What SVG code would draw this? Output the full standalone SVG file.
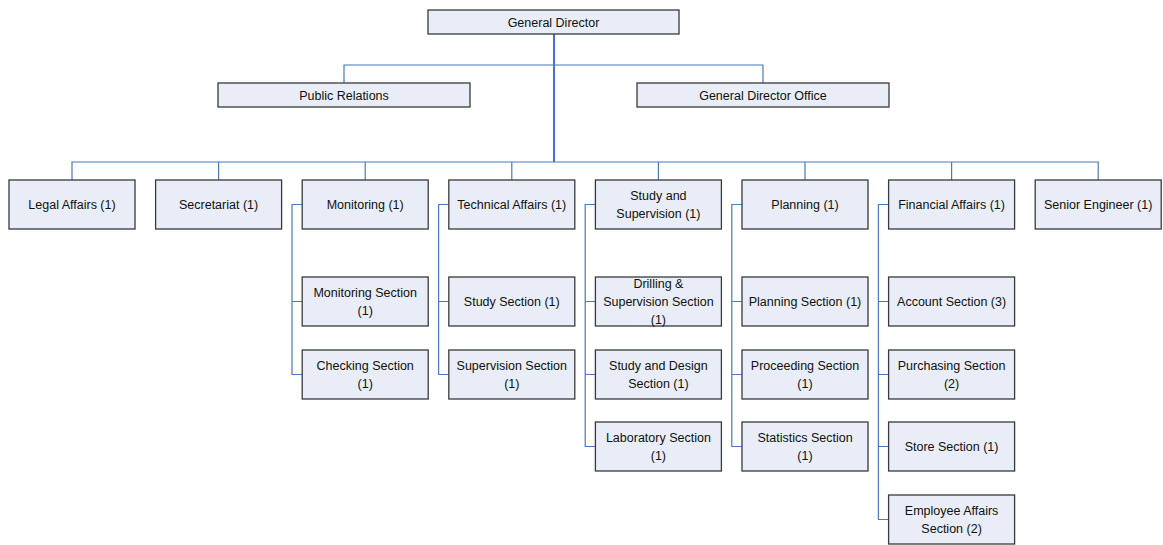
<svg xmlns="http://www.w3.org/2000/svg" width="1163" height="545" viewBox="0 0 1163 545">
  <style>
    .box { fill: #E8EDF7; stroke: #3A3A3A; stroke-width: 1.3; }
    .lbl { font-family: "Liberation Sans", Arial, sans-serif; font-size: 12.5px; fill: #111; text-anchor: middle; }
    .ln { fill: none; stroke: #4A78C2; stroke-width: 1.2; }
    .ln-main { fill: none; stroke: #4472C4; stroke-width: 2; }
  </style>
  <rect width="1163" height="545" fill="#FFFFFF"/>

  <!-- connectors -->
  <g id="connectors">
    <path class="ln-main" d="M554 34 V162"/>
    <path class="ln" d="M344 83 V65 H763 V83"/>
    <path class="ln" d="M72 180 V162 H1098.2 V180"/>
    <path class="ln" d="M218.6 162 V180 M365.2 162 V180 M511.8 162 V180 M658.4 162 V180 M805 162 V180 M951.6 162 V180"/>
    <!-- Monitoring -->
    <path class="ln" d="M302 204.5 H292 V374.5 H302 M292 301.5 H302"/>
    <!-- Technical Affairs -->
    <path class="ln" d="M448.6 204.5 H438.6 V374.5 H448.6 M438.6 301.5 H448.6"/>
    <!-- Study and Supervision -->
    <path class="ln" d="M595.2 204.5 H585.2 V446.5 H595.2 M585.2 301.5 H595.2 M585.2 374.5 H595.2"/>
    <!-- Planning -->
    <path class="ln" d="M741.8 204.5 H731.8 V446.5 H741.8 M731.8 301.5 H741.8 M731.8 374.5 H741.8"/>
    <!-- Financial Affairs -->
    <path class="ln" d="M888.4 204.5 H878.4 V519.5 H888.4 M878.4 301.5 H888.4 M878.4 374.5 H888.4 M878.4 446.5 H888.4"/>
  </g>

  <!-- top level -->
  <g id="general-director">
    <rect class="box" x="428" y="10" width="251" height="24"/>
    <text class="lbl" x="553.5" y="26.5">General Director</text>
  </g>
  <g id="public-relations">
    <rect class="box" x="218" y="83" width="252" height="24"/>
    <text class="lbl" x="344" y="99.5">Public Relations</text>
  </g>
  <g id="general-director-office">
    <rect class="box" x="637" y="83" width="252" height="24"/>
    <text class="lbl" x="763" y="99.5">General Director Office</text>
  </g>

  <!-- departments -->
  <g id="legal-affairs">
    <rect class="box" x="9" y="180" width="126" height="49"/>
    <text class="lbl" x="72" y="209">Legal Affairs (1)</text>
  </g>
  <g id="secretariat">
    <rect class="box" x="155.6" y="180" width="126" height="49"/>
    <text class="lbl" x="218.6" y="209">Secretariat (1)</text>
  </g>
  <g id="monitoring">
    <rect class="box" x="302.2" y="180" width="126" height="49"/>
    <text class="lbl" x="365.2" y="209">Monitoring (1)</text>
  </g>
  <g id="technical-affairs">
    <rect class="box" x="448.8" y="180" width="126" height="49"/>
    <text class="lbl" x="511.8" y="209">Technical Affairs (1)</text>
  </g>
  <g id="study-and-supervision">
    <rect class="box" x="595.4" y="180" width="126" height="49"/>
    <text class="lbl" x="658.4" y="200">Study and</text>
    <text class="lbl" x="658.4" y="218">Supervision (1)</text>
  </g>
  <g id="planning">
    <rect class="box" x="742" y="180" width="126" height="49"/>
    <text class="lbl" x="805" y="209">Planning (1)</text>
  </g>
  <g id="financial-affairs">
    <rect class="box" x="888.6" y="180" width="126" height="49"/>
    <text class="lbl" x="951.6" y="209">Financial Affairs (1)</text>
  </g>
  <g id="senior-engineer">
    <rect class="box" x="1035.2" y="180" width="126" height="49"/>
    <text class="lbl" x="1098.2" y="209">Senior Engineer (1)</text>
  </g>

  <!-- Monitoring sections -->
  <g id="monitoring-section">
    <rect class="box" x="302.2" y="277" width="126" height="49"/>
    <text class="lbl" x="365.2" y="297">Monitoring Section</text>
    <text class="lbl" x="365.2" y="315">(1)</text>
  </g>
  <g id="checking-section">
    <rect class="box" x="302.2" y="350" width="126" height="49"/>
    <text class="lbl" x="365.2" y="370">Checking Section</text>
    <text class="lbl" x="365.2" y="388">(1)</text>
  </g>

  <!-- Technical Affairs sections -->
  <g id="study-section">
    <rect class="box" x="448.8" y="277" width="126" height="49"/>
    <text class="lbl" x="511.8" y="306">Study Section (1)</text>
  </g>
  <g id="supervision-section">
    <rect class="box" x="448.8" y="350" width="126" height="49"/>
    <text class="lbl" x="511.8" y="370">Supervision Section</text>
    <text class="lbl" x="511.8" y="388">(1)</text>
  </g>

  <!-- Study and Supervision sections -->
  <g id="drilling-supervision-section">
    <rect class="box" x="595.4" y="277" width="126" height="49"/>
    <text class="lbl" x="658.4" y="287.5">Drilling &amp;</text>
    <text class="lbl" x="658.4" y="305.5">Supervision Section</text>
    <text class="lbl" x="658.4" y="323.5">(1)</text>
  </g>
  <g id="study-design-section">
    <rect class="box" x="595.4" y="350" width="126" height="49"/>
    <text class="lbl" x="658.4" y="370">Study and Design</text>
    <text class="lbl" x="658.4" y="388">Section (1)</text>
  </g>
  <g id="laboratory-section">
    <rect class="box" x="595.4" y="422" width="126" height="49"/>
    <text class="lbl" x="658.4" y="442">Laboratory Section</text>
    <text class="lbl" x="658.4" y="460">(1)</text>
  </g>

  <!-- Planning sections -->
  <g id="planning-section">
    <rect class="box" x="742" y="277" width="126" height="49"/>
    <text class="lbl" x="805" y="306">Planning Section (1)</text>
  </g>
  <g id="proceeding-section">
    <rect class="box" x="742" y="350" width="126" height="49"/>
    <text class="lbl" x="805" y="370">Proceeding Section</text>
    <text class="lbl" x="805" y="388">(1)</text>
  </g>
  <g id="statistics-section">
    <rect class="box" x="742" y="422" width="126" height="49"/>
    <text class="lbl" x="805" y="442">Statistics Section</text>
    <text class="lbl" x="805" y="460">(1)</text>
  </g>

  <!-- Financial Affairs sections -->
  <g id="account-section">
    <rect class="box" x="888.6" y="277" width="126" height="49"/>
    <text class="lbl" x="951.6" y="306">Account Section (3)</text>
  </g>
  <g id="purchasing-section">
    <rect class="box" x="888.6" y="350" width="126" height="49"/>
    <text class="lbl" x="951.6" y="370">Purchasing Section</text>
    <text class="lbl" x="951.6" y="388">(2)</text>
  </g>
  <g id="store-section">
    <rect class="box" x="888.6" y="422" width="126" height="49"/>
    <text class="lbl" x="951.6" y="451">Store Section (1)</text>
  </g>
  <g id="employee-affairs-section">
    <rect class="box" x="888.6" y="495" width="126" height="49"/>
    <text class="lbl" x="951.6" y="515">Employee Affairs</text>
    <text class="lbl" x="951.6" y="533">Section (2)</text>
  </g>
</svg>
